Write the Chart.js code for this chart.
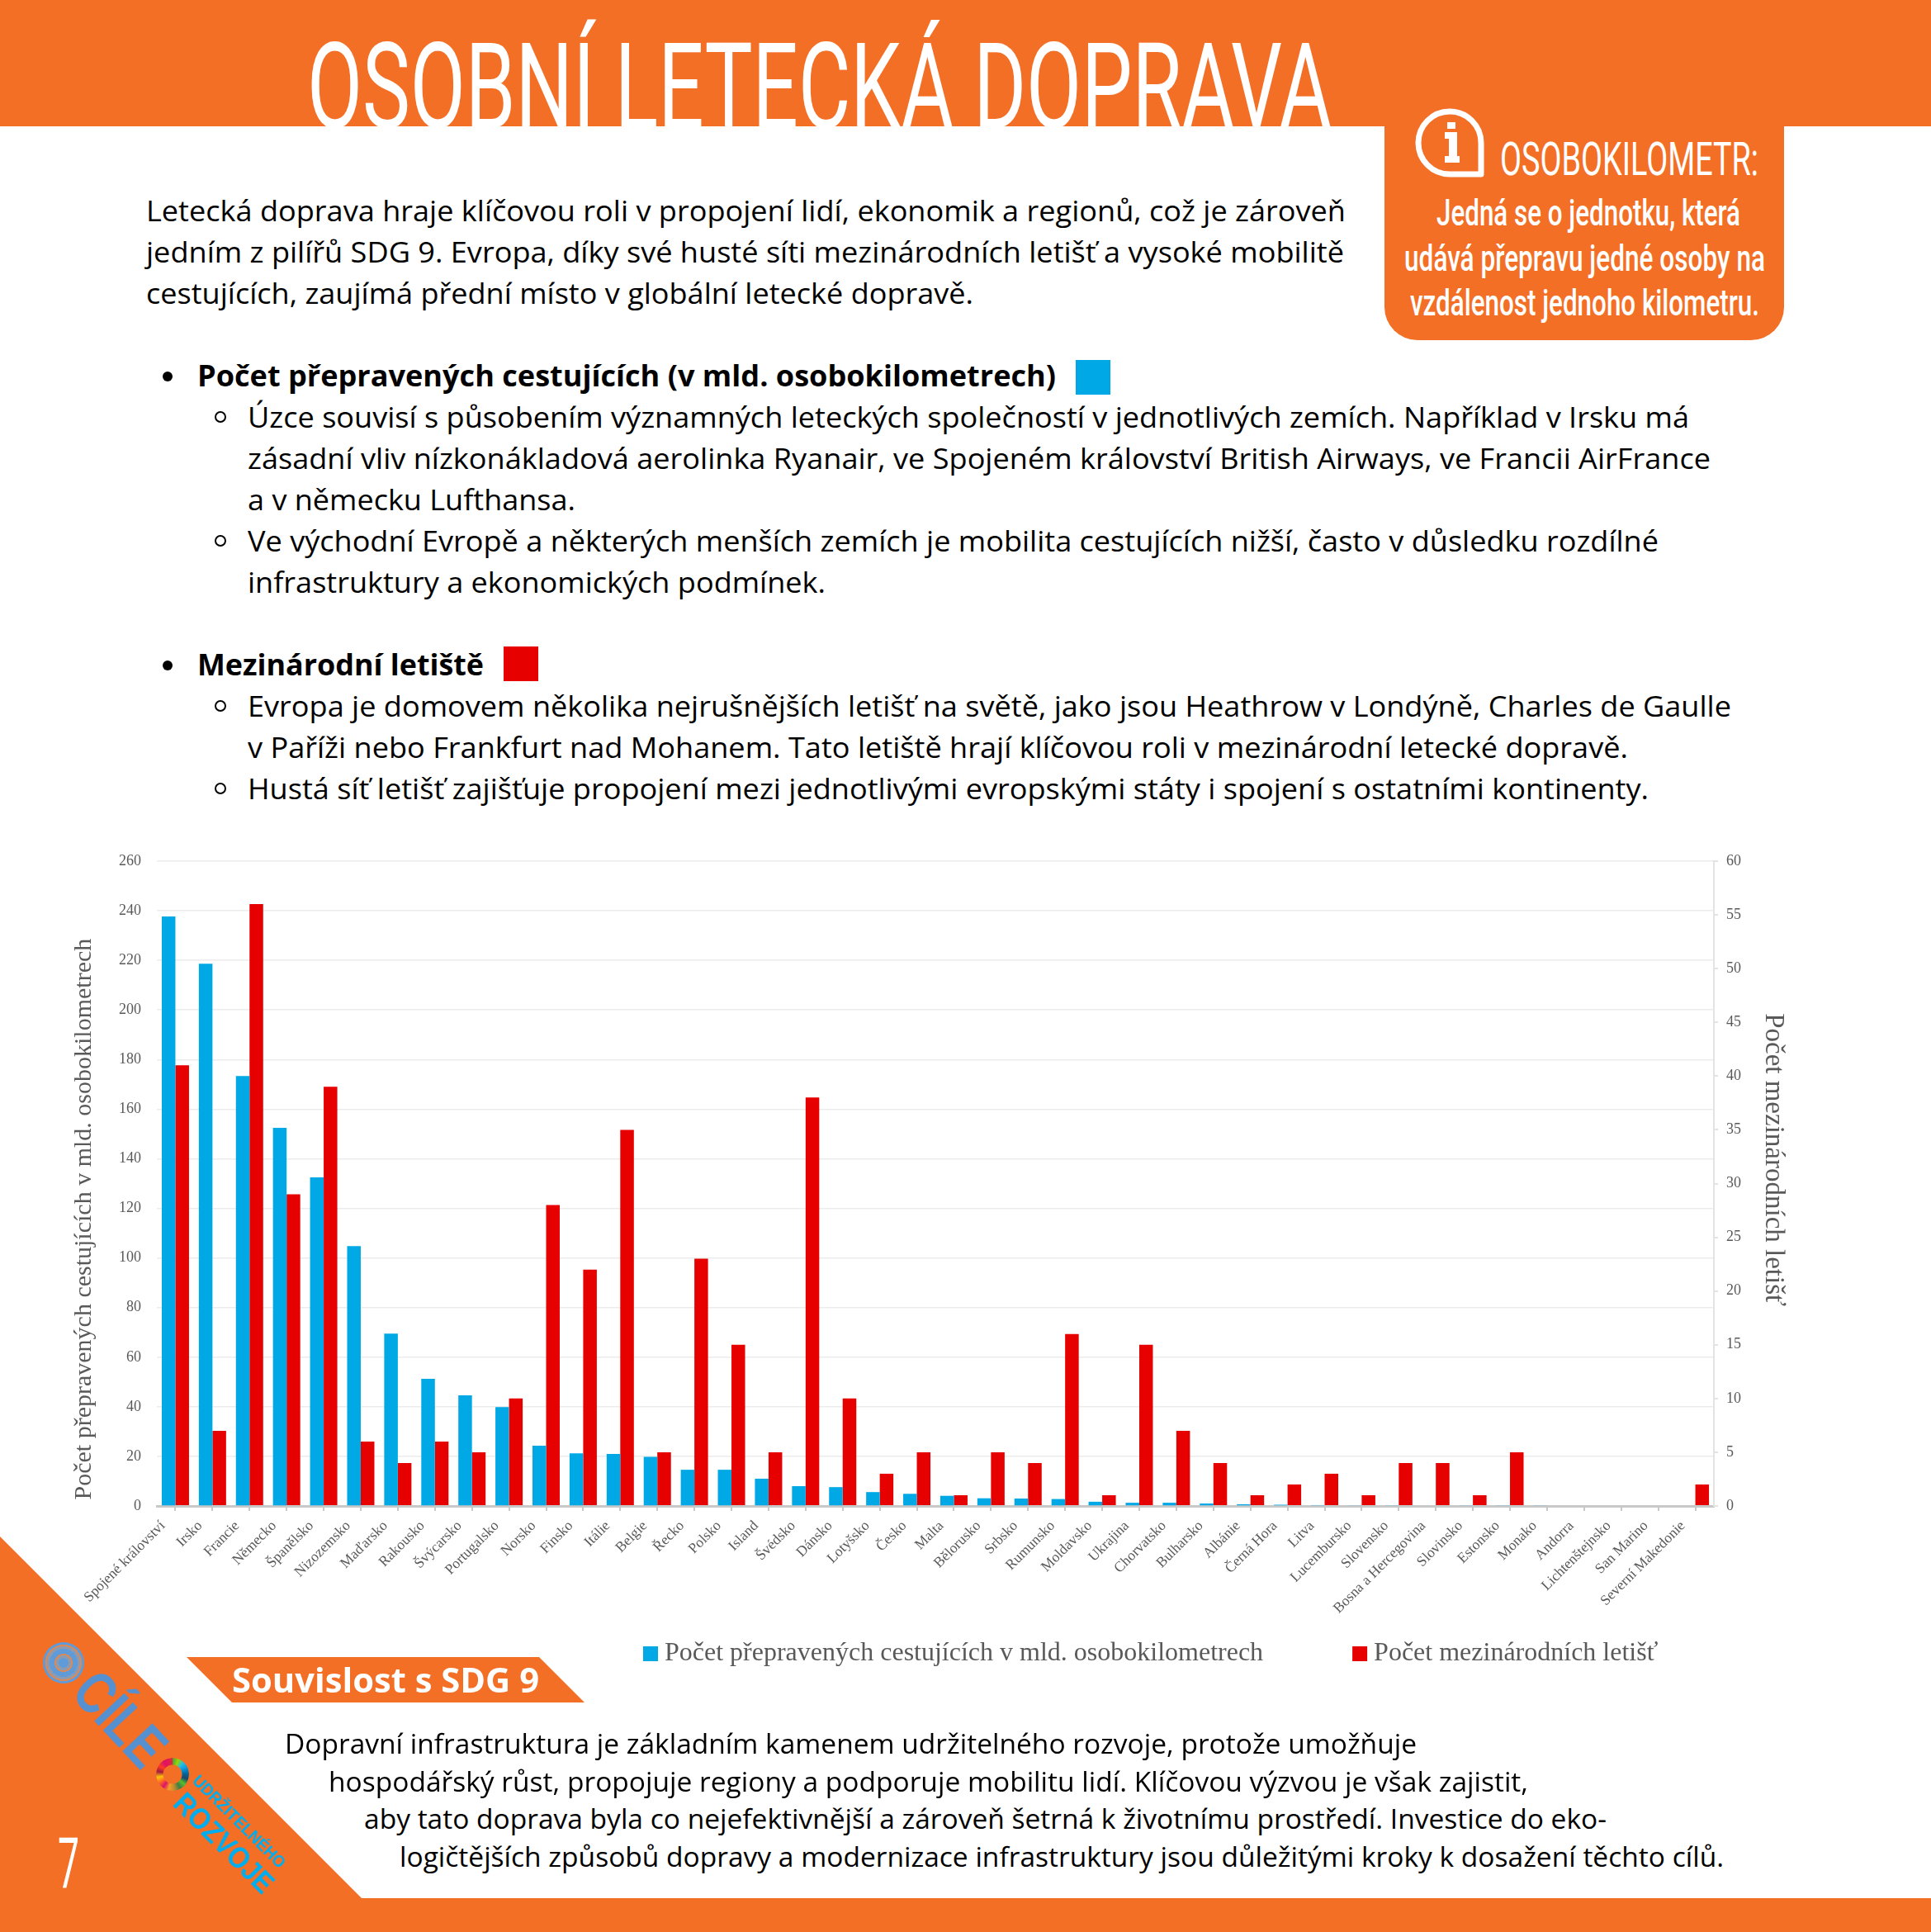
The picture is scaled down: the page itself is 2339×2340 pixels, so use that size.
<!DOCTYPE html>
<html lang="cs">
<head>
<meta charset="utf-8">
<title>Osobní letecká doprava</title>
<script src="https://cdn.jsdelivr.net/npm/chart.js@4"></script>
<style>
  html, body { margin: 0; padding: 0; background: #fff; }
  #page { position: relative; width: 2339px; height: 2340px; overflow: hidden; }
  #shapes, #chart { position: absolute; left: 0; top: 0; }
  #chart { top: 1001px; }
  .t { position: absolute; white-space: pre; color: #000; font-family: "Open Sans", sans-serif; }
  .body { font-size: 35px; }
  .bold { font-size: 35px; font-weight: 700; }
  .foot { font-size: 33px; }
  .head { font-family: Roboto, sans-serif; font-weight: 400; color: #fff; }
  .note { font-family: Roboto, sans-serif; font-size: 44px; font-weight: 500; color: #fff; }
  .logo { font-family: "Liberation Sans", sans-serif; font-weight: 700; }
  .dot { position: absolute; border-radius: 50%; box-sizing: border-box; }
</style>
</head>
<body>
<div id="page">
  <svg id="shapes" width="2339" height="2340">
    <rect x="0" y="0" width="2339" height="153" fill="#f36f26"/>
    <rect x="0" y="2299" width="2339" height="41" fill="#f36f26"/>
    <polygon points="0,1861 438,2299 438,2340 0,2340" fill="#f36f26"/>
    <polygon points="226,2007 653,2007 708,2062 281,2062" fill="#f36f26"/>
    <path d="M1677 150 H2161 V372 A40 40 0 0 1 2121 412 H1717 A40 40 0 0 1 1677 372 Z" fill="#f36f26"/>
    <!-- info ikona -->
    <path d="M1794 211 V173 A38 38 0 1 0 1756 211 Z" fill="none" stroke="#fff" stroke-width="7" stroke-linejoin="round"/>
    <path d="M1753 148 h10 v8 h-10 Z M1750 160 h15 v29 h3 v8 h-18 v-8 h5 v-21 h-5 Z" fill="#fff"/>
    <!-- barevne ctverce u nadpisu -->
    <rect x="1303" y="436" width="42" height="42" fill="#00a9e6"/>
    <rect x="610" y="783" width="42" height="42" fill="#e60000"/>
  </svg>
  <canvas id="chart" width="2339" height="1160"></canvas>
  <div class="dot" style="left:52px;top:1989px;width:50px;height:50px;background:repeating-radial-gradient(#5f9bd8 0 6px,#8d9bb0 6px 9px,#d98a5a 9px 11px)"></div>
  <div class="dot" style="left:189px;top:2129px;width:40px;height:40px;background:conic-gradient(#4c9f38,#97d700 6%,#26bde2 12%,#0a97d9 18%,#00689d 24%,#19486a 30%,#56c02b 36%,#3f7e44 42%,#bf8b2e 48%,#f99d26 54%,#dd1367 60%,#fd6925 66%,#fcc30b 72%,#a21942 78%,#ff3a21 84%,#dd1367 90%,#e5243b);-webkit-mask:radial-gradient(circle,transparent 11px,#000 12px)"></div>
</div>
<script>
// hodnoty z grafu
const COUNTRIES = [
  "Spojené království", "Irsko", "Francie", "Německo", "Španělsko", "Nizozemsko", "Maďarsko",
  "Rakousko", "Švýcarsko", "Portugalsko", "Norsko", "Finsko", "Itálie", "Belgie", "Řecko",
  "Polsko", "Island", "Švédsko", "Dánsko", "Lotyšsko", "Česko", "Malta", "Bělorusko", "Srbsko",
  "Rumunsko", "Moldavsko", "Ukrajina", "Chorvatsko", "Bulharsko", "Albánie", "Černá Hora",
  "Litva", "Lucembursko", "Slovensko", "Bosna a Hercegovina", "Slovinsko", "Estonsko", "Monako",
  "Andorra", "Lichtenštejnsko", "San Marino", "Severní Makedonie"
];
const PASSENGER_KM = [
  237.7, 218.6, 173.4, 152.5, 132.5, 104.8, 69.5, 51.3, 44.6, 39.9, 24.3, 21.2, 21, 19.8,
  14.6, 14.6, 11, 8, 7.6, 5.6, 4.9, 4.1, 3.1, 3, 2.8, 1.7, 1.3, 1.3, 1, 0.7, 0.5, 0.35,
  0.3, 0.3, 0.25, 0.2, 0.2, 0.2, 0, 0, 0, 0
];
const AIRPORTS = [
  41, 7, 56, 29, 39, 6, 4, 6, 5, 10, 28, 22, 35, 5, 23, 15, 5, 38, 10, 3, 5, 1, 5, 4,
  16, 1, 15, 7, 4, 1, 2, 3, 1, 4, 4, 1, 5, 0, 0, 0, 0, 2
];
const SERIES_NAMES = ["Počet přepravených cestujících v mld. osobokilometrech", "Počet mezinárodních letišť"];
const LEFT_TITLE = "\u00a0Počet přepravených cestujících v mld. osobokilometrech";
const RIGHT_TITLE = "Počet mezinárodních letišť" + "\u00a0".repeat(7);

// texty stranky: [text, x, baseline, sirka, trida, velikost, rotace, barva]
const PAGE_TEXT = [
  ["OSOBNÍ LETECKÁ DOPRAVA", 372, 155, 1241, "head", 144],
  ["OSOBOKILOMETR:", 1817, 212, 313, "head", 55],
  ["Jedná se o jednotku, která", 1740, 273, 368, "note"],
  ["udává přepravu jedné osoby na", 1701, 328, 437, "note"],
  ["vzdálenost jednoho kilometru.", 1708, 382, 423, "note"],
  ["Letecká doprava hraje klíčovou roli v propojení lidí, ekonomik a regionů, což je zároveň", 177, 268, 1453, "body"],
  ["jedním z pilířů SDG 9. Evropa, díky své husté síti mezinárodních letišť a vysoké mobilitě", 177, 318, 1451, "body"],
  ["cestujících, zaujímá přední místo v globální letecké dopravě.", 177, 368, 1002, "body"],
  ["Počet přepravených cestujících (v mld. osobokilometrech)", 239, 468, 1040, "bold"],
  ["Úzce souvisí s působením významných leteckých společností v jednotlivých zemích. Například v Irsku má", 300, 518, 1746, "body"],
  ["zásadní vliv nízkonákladová aerolinka Ryanair, ve Spojeném království British Airways, ve Francii AirFrance", 300, 568, 1772, "body"],
  ["a v německu Lufthansa.", 300, 618, 397, "body"],
  ["Ve východní Evropě a některých menších zemích je mobilita cestujících nižší, často v důsledku rozdílné", 300, 668, 1709, "body"],
  ["infrastruktury a ekonomických podmínek.", 300, 718, 700, "body"],
  ["Mezinárodní letiště", 239, 818, 347, "bold"],
  ["Evropa je domovem několika nejrušnějších letišť na světě, jako jsou Heathrow v Londýně, Charles de Gaulle", 300, 868, 1797, "body"],
  ["v Paříži nebo Frankfurt nad Mohanem. Tato letiště hrají klíčovou roli v mezinárodní letecké dopravě.", 300, 918, 1672, "body"],
  ["Hustá síť letišť zajišťuje propojení mezi jednotlivými evropskými státy i spojení s ostatními kontinenty.", 300, 968, 1697, "body"],
  ["Dopravní infrastruktura je základním kamenem udržitelného rozvoje, protože umožňuje", 345, 2124, 1371, "foot"],
  ["hospodářský růst, propojuje regiony a podporuje mobilitu lidí. Klíčovou výzvou je však zajistit,", 398, 2170, 1453, "foot"],
  ["aby tato doprava byla co nejefektivnější a zároveň šetrná k životnímu prostředí. Investice do eko-", 441, 2215, 1505, "foot"],
  ["logičtějších způsobů dopravy a modernizace infrastruktury jsou důležitými kroky k dosažení těchto cílů.", 484, 2261, 1604, "foot"],
  ["Souvislost s SDG 9", 281, 2050, 372, "bold", 41, 0, "#fff"],
  ["7", 70, 2286, 26, "head", 86],
  ["CÍLE", 84, 2052, 128, "logo", 72, 47, "#5590d0"],
  ["UDRŽITELNÉHO", 232, 2158, 150, "logo", 20, 45, "#00aeef"],
  ["ROZVOJE", 208, 2186, 155, "logo", 36, 45, "#00aeef"]
];

const page = document.getElementById("page");
const measure = document.createElement("canvas").getContext("2d");

PAGE_TEXT.forEach(([text, x, base, width, cls, size, rot, color]) => {
  const el = document.createElement("div");
  el.className = "t " + cls;
  el.textContent = text;
  if (size) el.style.fontSize = size + "px";
  if (color) el.style.color = color;
  page.appendChild(el);
  // baseline a sirka podle reference
  const cs = getComputedStyle(el);
  measure.font = `${cs.fontWeight} ${cs.fontSize} ${cs.fontFamily}`;
  const m = measure.measureText(text);
  const asc = m.fontBoundingBoxAscent, desc = m.fontBoundingBoxDescent;
  el.style.lineHeight = (asc + desc) + "px";
  el.style.left = x + "px";
  el.style.top = (base - asc) + "px";
  el.style.transformOrigin = `0 ${asc}px`;
  el.style.transform = `rotate(${rot || 0}deg) scaleX(${width / m.width})`;
});

// odrazky
[[203, 456], [203, 806]].forEach(([x, y]) => addDot(x, y, 6, "background:#000"));
[[267, 505], [267, 655], [267, 855], [267, 955]].forEach(([x, y]) => addDot(x, y, 7, "border:2.5px solid #000"));
function addDot(x, y, r, css) {
  const d = document.createElement("div");
  d.className = "dot";
  d.style.cssText = `left:${x - r}px;top:${y - r}px;width:${2 * r}px;height:${2 * r}px;${css}`;
  page.appendChild(d);
}

// legenda v referenci neni na stredu grafu
const legendPlace = {
  id: "legendPlace",
  afterLayout(chart) { chart.legend.left = 671; chart.legend.top = 870; }
};

const SERIF = "'Liberation Serif', serif";

new Chart(document.getElementById("chart"), {
  type: "bar",
  data: {
    labels: COUNTRIES,
    datasets: [
      { label: SERIES_NAMES[0], data: PASSENGER_KM, yAxisID: "y", backgroundColor: "#00a9e6" },
      { label: SERIES_NAMES[1], data: AIRPORTS, yAxisID: "y1", backgroundColor: "#e60000" }
    ]
  },
  options: {
    responsive: false,
    animation: false,
    barPercentage: 1,
    categoryPercentage: 0.735,
    layout: { padding: { top: 42 } },
    plugins: {
      tooltip: { enabled: false },
      legend: {
        position: "bottom",
        align: "start",
        labels: {
          font: { family: SERIF, size: 32 },
          color: "#595959",
          padding: 116,
          boxWidth: 2,
          boxHeight: 2,
          // ctverec se kresli tlustym okrajem, aby byl text blize
          generateLabels: chart => Chart.defaults.plugins.legend.labels.generateLabels(chart).map(l => ({
            ...l, lineWidth: 16, strokeStyle: l.fillStyle
          }))
        }
      }
    },
    scales: {
      x: {
        afterFit: s => { s.height = 179; },
        border: { color: "#c8c8c8", width: 3 },
        grid: { drawOnChartArea: false, offset: false, color: "#c8c8c8", tickLength: 6, lineWidth: 2 },
        ticks: {
          autoSkip: false, minRotation: 45, maxRotation: 45, padding: 8, labelOffset: -15,
          color: "#595959", font: { family: SERIF, size: 17.5 }
        }
      },
      y: {
        position: "left",
        min: 0, max: 260,
        afterFit: s => { s.width = 190; },
        border: { display: false },
        grid: { color: "#ececec", lineWidth: 1.5, drawTicks: false },
        ticks: { stepSize: 20, padding: 19, color: "#595959", font: { family: SERIF, size: 18 } },
        title: {
          display: true, text: LEFT_TITLE, align: "start", color: "#595959",
          font: { family: SERIF, size: 30 }, padding: { top: 84, bottom: 0 }
        }
      },
      y1: {
        position: "right",
        min: 0, max: 60,
        afterFit: s => { s.width = 263; },
        border: { color: "#e3e3e3", width: 2 },
        grid: { drawOnChartArea: false, color: "#e3e3e3", tickLength: 5, lineWidth: 2 },
        ticks: { stepSize: 5, padding: 10, color: "#595959", font: { family: SERIF, size: 18 } },
        title: {
          display: true, text: RIGHT_TITLE, color: "#595959",
          font: { family: SERIF, size: 33 }, padding: { top: 172, bottom: 0 }
        }
      }
    }
  },
  plugins: [legendPlace]
});
</script>
</body>
</html>
